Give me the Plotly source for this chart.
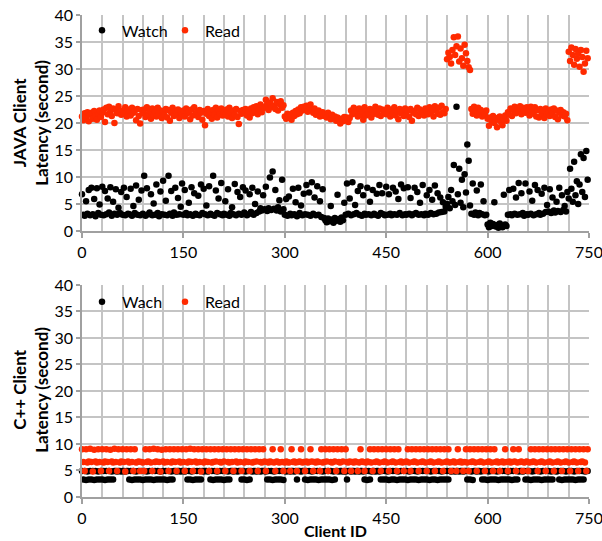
import plotly.graph_objects as go

# ---------------- data (client IDs sampled every 2) ----------------
java_watch = [
    6.8, 3.0, 2.8, 5.5, 3.2, 7.6, 2.9, 8.0, 3.1, 5.9, 2.7, 7.9, 3.3, 4.9, 3.0,
    8.2, 2.9, 7.4, 3.1, 6.0, 3.4, 8.1, 2.8, 5.4, 3.2, 7.7, 3.0, 4.3, 3.3, 7.2,
    3.0, 8.0, 2.9, 6.3, 3.2, 3.1, 7.8, 2.8, 4.6, 3.3, 8.4, 3.0, 5.8, 2.9, 7.5,
    3.2, 10.2, 2.8, 7.9, 3.1, 3.4, 6.8, 2.9, 5.1, 3.0, 8.6, 3.3, 2.7, 7.3, 3.1,
    9.3, 3.0, 5.6, 2.9, 10.2, 3.2, 7.4, 2.8, 3.4, 8.0, 3.0, 6.1, 3.1, 4.5, 8.8,
    3.0, 7.6, 3.3, 2.9, 5.2, 3.1, 8.1, 2.8, 7.0, 3.2, 3.0, 6.5, 2.9, 8.6, 3.3,
    7.8, 3.1, 4.7, 2.9, 8.3, 3.2, 3.0, 10.2, 2.8, 7.5, 3.3, 6.0, 3.1, 8.9, 2.9,
    3.2, 5.5, 3.0, 7.7, 2.8, 3.3, 4.4, 3.1, 8.7, 2.9, 7.2, 3.2, 6.3, 3.0, 8.1,
    3.4, 7.5, 2.9, 3.1, 6.8, 3.5, 8.0, 3.0, 5.0, 3.3, 7.3, 3.6, 4.2, 3.8, 6.6,
    4.0, 8.2, 3.7, 4.2, 9.9, 3.9, 11.0, 4.1, 7.6, 3.8, 4.4, 5.7, 3.6, 9.5, 4.0,
    3.0, 5.9, 2.8, 6.4, 3.2, 2.9, 7.8, 3.1, 5.3, 2.7, 8.0, 3.3, 4.7, 2.9, 6.9,
    3.1, 8.5, 3.0, 7.1, 2.8, 9.0, 3.2, 6.2, 2.9, 8.3, 3.0, 5.5, 2.6, 7.7, 2.4,
    2.0, 1.6, 2.3, 1.8, 4.6, 2.1, 1.5, 2.4, 1.9, 6.7, 2.2, 1.7, 2.5, 2.0, 5.2,
    3.0, 8.8, 3.2, 6.0, 2.9, 9.0, 3.1, 4.8, 3.3, 7.4, 3.0, 8.3, 2.8, 6.6, 3.2,
    3.0, 8.0, 3.1, 5.4, 2.9, 7.6, 3.2, 3.0, 6.9, 2.8, 8.5, 3.3, 7.0, 3.1, 2.9,
    8.2, 3.0, 6.8, 3.2, 2.9, 8.0, 3.1, 7.3, 3.0, 5.9, 3.3, 8.6, 2.9, 7.9, 3.1,
    3.0, 8.1, 3.2, 6.1, 2.9, 3.1, 8.0, 3.3, 7.2, 3.0, 5.2, 3.1, 8.5, 2.9, 3.2,
    6.6, 3.0, 7.6, 3.3, 5.8, 3.1, 8.4, 3.2, 7.0, 3.4, 6.2, 3.5, 5.3, 3.6, 4.5,
    5.0, 6.3, 4.2, 7.6, 5.5, 12.2, 4.8, 23.0, 6.8, 11.5, 5.2, 9.5, 4.4, 10.5, 7.1,
    16.0, 13.0, 4.7, 3.2, 8.8, 3.0, 3.4, 7.5, 2.9, 3.3, 8.6, 3.1, 5.5, 2.9, 3.0,
    1.2, 0.7, 1.5, 0.9, 1.3, 5.3, 0.8, 1.1, 0.6, 1.4, 1.0, 0.7, 6.7, 1.2, 0.9,
    3.0, 7.6, 3.1, 2.9, 7.8, 3.2, 6.2, 3.0, 8.9, 3.1, 7.0, 3.3, 2.8, 8.8, 3.1,
    3.0, 7.3, 3.2, 5.6, 2.9, 8.5, 3.1, 7.6, 3.3, 3.0, 6.9, 3.2, 8.0, 3.5, 4.8,
    3.6, 7.7, 3.3, 6.2, 3.8, 3.4, 5.4, 3.7, 8.0, 3.5, 6.6, 3.9, 4.6, 3.6, 7.2,
    6.0, 11.5, 7.8, 5.4, 12.8, 6.6, 9.2, 5.0, 8.6, 14.2, 7.2, 13.5, 6.3, 14.8, 9.5,
]

java_read = [
    21.2, 20.5, 21.8, 21.0, 22.0, 20.3, 21.5, 21.9, 20.8, 22.2, 21.4, 20.6, 21.7, 22.3, 21.1,
    21.9, 22.5, 20.2, 22.8, 21.6, 23.0, 22.1, 21.3, 22.7, 20.0, 22.4, 21.8, 23.1, 22.0, 21.5,
    22.3, 21.7, 22.9, 21.2, 22.5, 22.0, 21.4, 22.8, 21.9, 22.2, 20.5, 22.6, 21.3, 19.9, 22.4,
    21.8, 22.5, 21.1, 22.9, 21.6, 22.2, 20.8, 22.7, 21.4, 22.0, 21.2, 22.8, 21.7, 22.3, 20.9,
    22.1, 21.5, 22.6, 21.0, 22.4, 20.4, 21.9, 22.8, 21.3, 22.2, 21.7, 22.5, 20.9, 22.0, 21.6,
    22.3, 21.2, 22.7, 21.8, 22.1, 20.7, 22.5, 21.4, 22.9, 21.6, 22.0, 21.1, 22.4, 21.9, 20.6,
    22.2, 19.6, 21.7, 22.6, 21.3, 22.0, 20.8, 22.4, 21.5, 22.8, 21.0, 22.3, 21.8, 22.7, 21.4,
    22.0, 21.6, 22.5, 21.2, 22.8, 21.9, 20.9, 22.3, 21.5, 22.6, 21.1, 19.8, 22.2, 21.7, 22.4,
    21.9, 22.6, 21.4, 22.2, 21.0, 22.7, 21.8, 22.9, 22.3, 23.1, 21.6, 22.5, 23.4, 22.0, 23.0,
    22.8, 24.3, 23.5, 22.4, 23.8, 22.9, 24.6, 23.2, 22.6, 23.9, 22.3, 23.5, 24.0, 22.8, 23.3,
    21.2, 20.8, 21.7, 21.0, 21.5, 20.6, 21.9, 21.3, 22.2, 21.6, 22.5, 21.8, 22.9, 22.3, 23.0,
    22.6, 23.2, 22.1, 22.8, 23.4, 22.4, 21.9, 22.7, 21.5, 21.9, 22.3, 21.2, 21.7, 22.0, 21.3,
    21.6, 21.0, 21.9, 21.3, 20.7, 21.5, 20.9, 21.2, 20.4, 21.0, 20.6, 19.9, 20.8, 20.3, 21.1,
    20.5, 21.0, 20.2, 20.9, 22.3, 21.6, 22.8, 21.9, 22.4, 21.2, 22.7, 21.5, 22.1, 20.6, 22.9,
    21.4, 22.2, 21.8, 22.6, 21.0, 22.4, 21.7, 23.0, 22.1, 21.5, 22.7, 21.3, 22.5, 21.9, 22.3,
    21.6, 22.8, 22.0, 21.2, 22.5, 21.7, 22.9, 21.4, 22.2, 20.7, 22.6, 21.8, 22.1, 21.3, 22.7,
    21.5, 22.3, 21.1, 22.6, 20.4, 21.9, 22.2, 21.6, 22.8, 21.3, 22.5, 21.8, 22.0, 21.4, 22.7,
    22.1, 21.6, 22.9, 21.9, 22.4, 21.2, 23.1, 22.3, 21.7, 22.8, 21.5, 23.2, 22.0, 21.8, 22.6,
    31.8, 33.0, 32.2, 31.0, 33.5, 35.9, 32.6, 34.2, 36.0, 31.4, 33.8, 32.0, 30.6, 34.5, 32.9,
    31.5, 30.3, 29.8, 22.6, 21.7, 23.0, 22.1, 21.4, 22.8, 21.9, 22.4, 21.2, 22.0, 21.6, 22.3,
    20.8, 19.5, 21.0, 20.3, 21.3, 20.0, 20.9, 19.2, 20.6, 21.2, 20.2, 19.6, 20.7, 21.4, 20.4,
    22.0, 21.5, 22.7, 21.3, 22.4, 23.0, 21.8, 22.6, 22.1, 23.1, 21.6, 22.8, 22.3, 21.9, 22.9,
    22.2, 21.4, 23.0, 22.5, 21.7, 22.9, 21.2, 22.4, 21.0, 22.6, 21.8, 22.3, 20.9, 22.7, 21.5,
    22.1, 21.3, 22.5, 21.8, 22.7, 21.1, 22.3, 20.7, 21.9, 22.4, 21.4, 22.0, 21.2, 21.7, 20.5,
    33.2, 31.5, 34.0, 32.6, 30.8, 33.7, 31.9, 32.9, 30.4, 33.5, 32.2, 29.5, 31.0, 33.4, 32.0,
]

cpp_watch = [
    4.9, 3.3, 4.9, 3.2, 4.8, 3.3, 4.9, 3.3, 4.9, 3.2, 4.9, 3.3, 4.8, 3.3, 4.9,
    3.3, 4.9, 3.2, 4.9, 3.3, 4.9, 3.3, 4.8, 3.3, 4.9, 4.9, 4.8, 4.9, 4.9, 4.8,
    4.9, 4.9, 4.8, 4.9, 4.9, 3.3, 4.9, 3.2, 4.9, 3.3, 4.8, 3.3, 4.9, 3.3, 4.9,
    3.2, 4.9, 3.3, 4.8, 3.3, 4.9, 3.3, 4.9, 3.2, 4.9, 3.3, 4.9, 3.3, 4.8, 3.3,
    4.9, 3.3, 4.9, 3.2, 4.9, 3.3, 4.8, 3.3, 4.9, 4.9, 4.8, 4.9, 4.9, 4.8, 4.9,
    4.9, 4.8, 4.9, 3.3, 4.9, 3.3, 4.8, 3.2, 4.9, 3.3, 4.9, 3.3, 4.9, 3.3, 4.9,
    4.8, 4.9, 4.9, 4.8, 4.9, 3.3, 4.9, 3.2, 4.9, 3.3, 4.8, 3.3, 4.9, 3.3, 4.9,
    3.2, 4.9, 3.3, 4.8, 3.3, 4.9, 4.9, 4.8, 4.9, 4.9, 4.8, 4.9, 4.9, 3.3, 4.9,
    3.3, 4.8, 3.2, 4.9, 3.3, 4.9, 4.8, 4.9, 4.9, 4.8, 4.9, 4.9, 4.8, 4.9, 4.9,
    4.9, 4.8, 3.3, 4.9, 3.3, 4.9, 3.2, 4.8, 3.3, 4.9, 3.3, 4.9, 3.3, 4.9, 3.2,
    4.9, 4.8, 4.9, 4.9, 4.8, 4.9, 4.9, 4.8, 4.9, 3.3, 4.9, 4.9, 4.8, 4.9, 4.9,
    3.3, 4.9, 3.2, 4.9, 3.3, 4.8, 3.3, 4.9, 3.3, 4.9, 3.2, 4.9, 3.3, 4.8, 3.3,
    4.9, 3.3, 4.9, 3.3, 4.9, 3.2, 4.8, 3.3, 4.9, 4.9, 4.8, 4.9, 4.9, 4.8, 4.9,
    4.8, 3.3, 4.9, 4.9, 4.8, 4.9, 4.9, 4.8, 4.9, 4.9, 4.8, 4.9, 4.9, 4.8, 3.3,
    4.9, 3.2, 4.9, 3.3, 4.8, 4.9, 4.9, 4.8, 4.9, 4.9, 4.8, 3.3, 4.9, 3.3, 4.9,
    3.3, 4.8, 3.2, 4.9, 3.3, 4.9, 3.3, 4.9, 3.2, 4.8, 3.3, 4.9, 3.3, 4.9, 3.3,
    4.9, 3.2, 4.8, 3.3, 4.9, 3.3, 4.9, 3.3, 4.8, 3.2, 4.9, 3.3, 4.9, 3.3, 4.9,
    3.3, 4.9, 3.2, 4.8, 3.3, 4.9, 3.3, 4.9, 3.2, 4.9, 3.3, 4.8, 3.3, 4.9, 3.3,
    4.9, 3.3, 4.9, 4.8, 4.9, 4.9, 4.8, 4.9, 4.9, 4.8, 4.9, 4.9, 4.8, 4.9, 4.9,
    3.3, 4.9, 3.3, 4.8, 3.2, 4.9, 4.9, 4.8, 4.9, 4.9, 4.8, 3.3, 4.9, 3.3, 4.9,
    3.2, 4.8, 3.3, 4.9, 3.3, 4.9, 3.3, 4.8, 3.2, 4.9, 3.3, 4.9, 3.3, 4.9, 3.3,
    4.8, 3.3, 4.9, 3.2, 4.9, 3.3, 4.9, 3.3, 4.8, 4.9, 4.9, 4.8, 4.9, 3.3, 4.9,
    3.3, 4.9, 3.2, 4.8, 3.3, 4.9, 3.3, 4.9, 3.3, 4.8, 3.2, 4.9, 3.3, 4.9, 3.3,
    4.9, 3.3, 4.8, 3.3, 4.9, 4.9, 4.8, 4.9, 3.3, 4.9, 3.2, 4.9, 3.3, 4.8, 3.3,
    4.9, 3.3, 4.9, 3.3, 4.8, 3.2, 4.9, 3.3, 4.9, 3.3, 4.9, 3.3, 4.8, 4.9, 4.9,
]

cpp_read = [
    9.0, 6.6, 4.9, 9.0, 6.5, 6.7, 9.1, 6.6, 4.8, 8.9, 6.7, 6.5, 9.0, 6.6, 4.9,
    9.0, 6.5, 6.7, 9.0, 6.6, 4.9, 8.9, 6.7, 6.5, 9.1, 6.6, 4.9, 9.0, 6.5, 6.7,
    9.0, 6.6, 4.8, 9.0, 6.7, 6.5, 9.0, 6.6, 4.9, 9.0, 6.5, 6.6, 6.7, 4.9, 6.6,
    6.5, 4.9, 9.0, 6.6, 6.7, 9.0, 6.5, 4.9, 9.1, 6.6, 6.7, 9.0, 6.6, 4.8, 8.9,
    6.7, 6.5, 9.0, 6.6, 4.9, 9.0, 6.5, 6.7, 9.0, 6.6, 4.9, 9.0, 6.7, 6.5, 9.0,
    6.6, 4.9, 9.0, 6.5, 6.7, 9.1, 6.6, 4.9, 9.0, 6.7, 6.5, 9.0, 6.6, 4.8, 9.0,
    6.5, 6.7, 9.0, 6.6, 4.9, 9.0, 6.5, 6.6, 9.0, 6.7, 4.9, 9.0, 6.6, 6.5, 9.0,
    6.7, 4.9, 9.0, 6.6, 6.5, 9.0, 6.6, 4.9, 9.0, 6.7, 6.5, 9.0, 6.6, 4.9, 9.0,
    6.5, 6.7, 9.0, 6.6, 4.9, 9.0, 6.5, 6.6, 9.0, 6.7, 4.9, 9.0, 6.6, 6.5, 9.0,
    6.7, 4.9, 6.6, 6.5, 6.7, 6.6, 9.0, 6.5, 4.9, 6.7, 6.6, 6.5, 9.0, 6.6, 4.9,
    6.5, 6.7, 6.6, 6.5, 4.9, 9.0, 6.6, 6.7, 6.5, 4.9, 6.6, 6.7, 9.0, 6.5, 6.6,
    4.9, 6.7, 6.5, 6.6, 9.0, 6.7, 4.9, 6.6, 6.5, 6.7, 6.6, 4.9, 9.0, 6.5, 6.6,
    9.0, 6.7, 4.9, 9.0, 6.6, 6.5, 9.0, 6.7, 4.9, 9.0, 6.6, 6.5, 9.0, 6.7, 4.9,
    9.0, 6.6, 6.5, 6.7, 4.9, 6.6, 6.5, 6.7, 6.6, 4.9, 6.5, 9.0, 6.7, 6.6, 4.9,
    6.5, 6.7, 6.6, 9.0, 6.5, 4.9, 9.0, 6.6, 6.7, 9.0, 6.5, 4.9, 9.0, 6.6, 6.7,
    9.0, 6.5, 4.9, 9.0, 6.6, 6.7, 9.0, 6.5, 4.9, 9.0, 6.6, 6.7, 6.5, 4.9, 6.6,
    6.7, 9.0, 6.5, 4.9, 9.0, 6.6, 6.7, 9.0, 6.5, 4.9, 9.0, 6.6, 6.7, 9.0, 6.5,
    4.9, 9.0, 6.6, 6.7, 9.0, 6.5, 4.9, 9.0, 6.6, 6.7, 9.0, 6.5, 4.9, 9.0, 6.6,
    6.7, 9.0, 6.5, 4.9, 6.6, 6.7, 6.5, 4.9, 9.0, 6.6, 6.7, 6.5, 4.9, 6.6, 9.0,
    6.5, 4.9, 9.0, 6.6, 6.7, 9.0, 6.5, 4.9, 9.0, 6.6, 6.7, 9.0, 6.5, 4.9, 9.0,
    6.6, 6.7, 9.0, 6.5, 4.9, 9.0, 6.6, 6.7, 6.5, 4.9, 6.6, 6.7, 6.5, 9.0, 6.6,
    4.9, 6.7, 6.5, 6.6, 9.0, 6.7, 4.9, 6.5, 9.0, 6.6, 6.7, 4.9, 6.5, 6.6, 6.7,
    4.9, 6.5, 9.0, 6.6, 6.7, 9.0, 6.5, 4.9, 9.0, 6.6, 6.7, 9.0, 6.5, 4.9, 9.0,
    6.6, 6.7, 9.0, 6.5, 4.9, 9.0, 6.6, 6.7, 9.0, 6.5, 4.9, 9.0, 6.6, 6.7, 9.0,
    6.5, 4.9, 9.0, 6.6, 6.7, 9.0, 6.5, 4.9, 9.0, 6.6, 6.7, 9.0, 6.5, 4.9, 9.0,
]

x_tick_vals = [0, 150, 300, 450, 600, 750]
y_tick_vals = [0, 5, 10, 15, 20, 25, 30, 35, 40]
client_step = 2


def client_ids(values):
    return [client_step * i for i in range(len(values))]


RED = "#ff2a00"
BLACK = "#000000"
GRID = "#c4c4c4"
AXIS = "#a0a0a0"
FONT = "Lato"
MSIZE = 6.5

fig = go.Figure()

fig.add_trace(go.Scatter(x=client_ids(java_watch), y=java_watch, mode="markers", name="Watch",
                         marker=dict(color=BLACK, size=MSIZE), cliponaxis=False,
                         xaxis="x", yaxis="y", legend="legend"))
fig.add_trace(go.Scatter(x=client_ids(java_read), y=java_read, mode="markers", name="Read",
                         marker=dict(color=RED, size=MSIZE), cliponaxis=False,
                         xaxis="x", yaxis="y", legend="legend"))
fig.add_trace(go.Scatter(x=client_ids(cpp_watch), y=cpp_watch, mode="markers", name="Wach",
                         marker=dict(color=BLACK, size=MSIZE), cliponaxis=False,
                         xaxis="x2", yaxis="y2", legend="legend2"))
fig.add_trace(go.Scatter(x=client_ids(cpp_read), y=cpp_read, mode="markers", name="Read",
                         marker=dict(color=RED, size=MSIZE), cliponaxis=False,
                         xaxis="x2", yaxis="y2", legend="legend2"))

xcommon = dict(range=[0, 750], tickvals=x_tick_vals, showgrid=True, gridcolor=GRID, gridwidth=1.5,
               minor=dict(dtick=30, tick0=0, showgrid=True, gridcolor=GRID, gridwidth=1.5),
               showline=True, linecolor=AXIS, linewidth=1.5, mirror=False,
               ticks="outside", ticklen=5, tickcolor=AXIS, tickwidth=1.5,
               ticklabelstandoff=1, zeroline=False, automargin=False,
               ticklabeloverflow="allow",
               tickfont=dict(family=FONT, size=16, color="#000"))
ycommon = dict(range=[0, 40], tickvals=y_tick_vals, showgrid=True, gridcolor=GRID, gridwidth=1.5,
               showline=True, linecolor=AXIS, linewidth=1.5, automargin=False,
               ticks="outside", ticklen=4, tickcolor=AXIS, tickwidth=1.5, zeroline=False,
               tickfont=dict(family=FONT, size=16, color="#000"))

legend_common = dict(orientation="h", xanchor="left", yanchor="middle",
                     bgcolor="rgba(0,0,0,0)", font=dict(family=FONT, size=16, color="#000"),
                     itemwidth=30, entrywidth=38, entrywidthmode="pixels")

title_font = dict(family=FONT, size=17, color="#000")

fig.update_layout(
    width=602, height=541,
    margin=dict(l=82, r=13, t=15, b=44),
    plot_bgcolor="white", paper_bgcolor="white",
    xaxis=dict(domain=[0, 1], anchor="y", **xcommon),
    yaxis=dict(domain=[0.552, 1], anchor="x", **ycommon),
    xaxis2=dict(domain=[0, 1], anchor="y2", **xcommon),
    yaxis2=dict(domain=[0, 0.44], anchor="x2", **ycommon),
    legend=dict(x=0.0, y=0.968, **legend_common),
    legend2=dict(x=0.0, y=0.405, **legend_common),
    showlegend=True,
    annotations=[
        dict(text="<b>JAVA Client<br>Latency (second)</b>", textangle=-90,
             xref="paper", yref="paper", x=-0.101, y=0.776,
             xanchor="center", yanchor="middle", showarrow=False, font=title_font),
        dict(text="<b>C++ Client<br>Latency (second)</b>", textangle=-90,
             xref="paper", yref="paper", x=-0.101, y=0.222,
             xanchor="center", yanchor="middle", showarrow=False, font=title_font),
        dict(text="<b>Client ID</b>", xref="paper", yref="paper", x=0.5, y=-0.069,
             xanchor="center", yanchor="middle", showarrow=False,
             font=dict(family=FONT, size=16, color="#000")),
    ],
)

fig.write_html("out.html")
